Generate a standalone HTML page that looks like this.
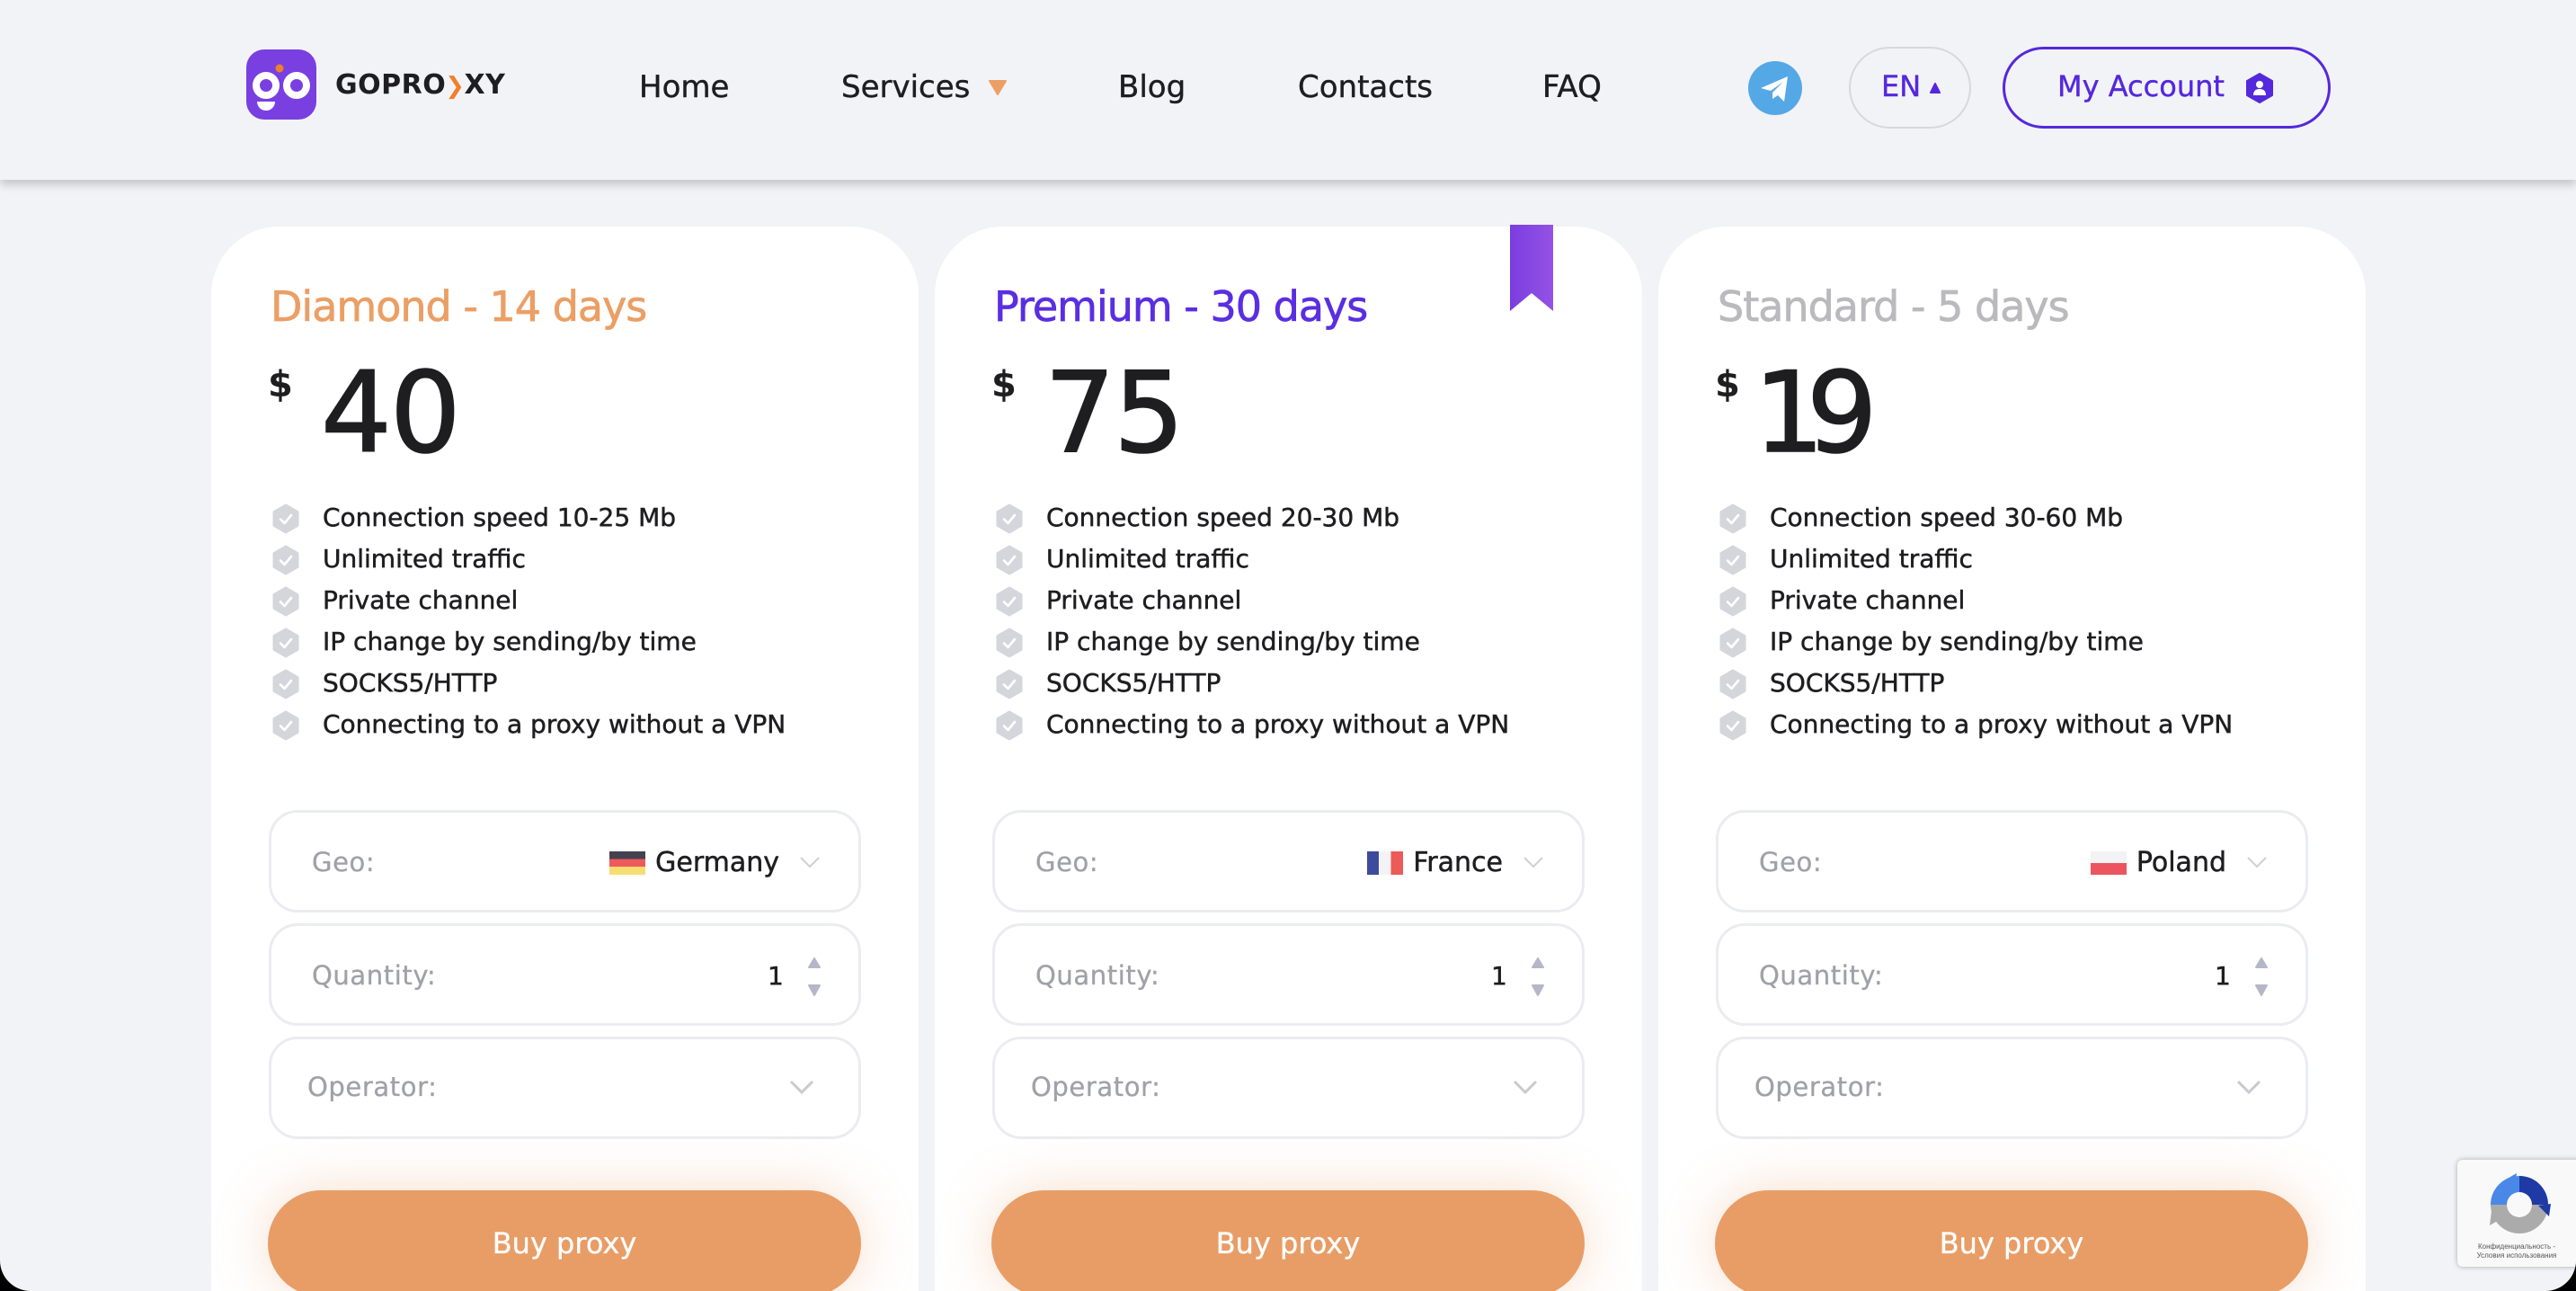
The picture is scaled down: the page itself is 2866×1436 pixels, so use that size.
<!DOCTYPE html>
<html><head><meta charset="utf-8">
<style>
*{margin:0;padding:0;box-sizing:border-box}
html,body{width:2866px;height:1436px;background:#000;overflow:hidden}
.page{position:absolute;left:0;top:0;width:2866px;height:1436px;background:#f2f3f7;border-radius:0 0 34px 34px;overflow:hidden;font-family:"DejaVu Sans","Liberation Sans",sans-serif;color:#1e1e21}
.t{position:absolute;line-height:1;white-space:nowrap}
header{position:absolute;left:0;top:0;width:2866px;height:200px;background:#f2f3f7;box-shadow:0 5px 10px rgba(0,0,0,0.2);z-index:3}
.nav{font-size:34px;top:80px;color:#1e1e21;-webkit-text-stroke:0.4px #1e1e21}
.card{position:absolute;top:252px;width:787px;height:1300px;background:#fff;border-radius:76px}
.title{left:66px;top:66px;font-size:46px;letter-spacing:-1px;-webkit-text-stroke:0.7px currentColor}
.dollar{left:63px;top:156px;font-size:40px;font-weight:bold}
.price{left:122px;top:146px;font-size:124px;letter-spacing:-2px;-webkit-text-stroke:1.6px #1e1e21}
.feat{left:124px;font-size:28px;color:#1e1e21;-webkit-text-stroke:0.5px #1e1e21}
.ico{position:absolute;left:68px;width:30px;height:34px}
.box{position:absolute;left:64px;width:659px;height:114px;border:3px solid #ebecf1;border-radius:32px;background:#fff}
.lbl{font-size:29px;letter-spacing:0.6px;color:#a0a1a8;-webkit-text-stroke:0.3px #a0a1a8}
.val{font-size:30px;line-height:1;color:#1e1e21;-webkit-text-stroke:0.5px #1e1e21}
.btn{position:absolute;left:63px;top:1072px;width:660px;height:118px;border-radius:59px;background:#e89d66;box-shadow:0 0 60px rgba(232,157,102,0.35)}
.btn span{position:absolute;left:0;width:660px;text-align:center;top:43px;font-size:32px;color:#fff;line-height:1;-webkit-text-stroke:0.3px #fff}
</style></head><body>
<div class="page">
<header>
  <svg style="position:absolute;left:274px;top:55px" width="78" height="78" viewBox="0 0 78 78">
    <rect x="0" y="0" width="78" height="78" rx="20" fill="#7a3fe0"/>
    <circle cx="22" cy="40" r="11" fill="none" stroke="#fff" stroke-width="8"/>
    <circle cx="56" cy="40" r="11" fill="none" stroke="#fff" stroke-width="8"/>
    <circle cx="37" cy="21" r="4.5" fill="#f07f2c"/>
    <path d="M12 58 A10 10 0 0 0 32 58 Z" fill="#fff"/>
  </svg>
  <div class="t" style="left:373px;top:80px;font-size:30px;font-weight:bold;letter-spacing:0.5px;color:#1e1e21">GOPRO<span style="color:#f07f2c;font-size:26px;margin:0 -1px">❯</span>XY</div>
  <div class="t nav" style="left:711px">Home</div>
  <div class="t nav" style="left:936px">Services</div>
  <svg style="position:absolute;left:1100px;top:89px" width="20" height="17" viewBox="0 0 20 17"><path d="M1 1 L19 1 L10 16 Z" fill="#eb9f65" stroke="#eb9f65" stroke-linejoin="round" stroke-width="2"/></svg>
  <div class="t nav" style="left:1244px">Blog</div>
  <div class="t nav" style="left:1444px">Contacts</div>
  <div class="t nav" style="left:1716px">FAQ</div>
  <svg style="position:absolute;left:1945px;top:68px" width="60" height="60" viewBox="0 0 60 60">
    <circle cx="30" cy="30" r="30" fill="#55a8e6"/>
    <path d="M14 30 L44 17 L40 45 L33 38 L27 42 L27 35 L39 23 L25 33 Z" fill="#fff"/>
  </svg>
  <div style="position:absolute;left:2057px;top:52px;width:136px;height:91px;border:2px solid #d8d8da;border-radius:46px"></div>
  <div class="t" style="left:2093px;top:80px;font-size:32px;color:#5528dd;-webkit-text-stroke:0.4px #5528dd">EN</div>
  <svg style="position:absolute;left:2146px;top:92px" width="14" height="13" viewBox="0 0 14 13"><path d="M7 1 L12 11 L2 11 Z" fill="#5528dd" stroke="#5528dd" stroke-linejoin="round" stroke-width="2"/></svg>
  <div style="position:absolute;left:2228px;top:52px;width:365px;height:91px;border:3px solid #5528dd;border-radius:46px"></div>
  <div class="t" style="left:2289px;top:80px;font-size:32px;color:#5528dd;-webkit-text-stroke:0.4px #5528dd">My Account</div>
  <svg style="position:absolute;left:2498px;top:81px" width="32" height="34" viewBox="0 0 32 34">
    <path d="M16 1 L30 9 L30 25 L16 33 L2 25 L2 9 Z" fill="#5528dd" stroke="#5528dd" stroke-width="2" stroke-linejoin="round"/>
    <circle cx="16" cy="13" r="4" fill="#fff"/>
    <path d="M9 25 Q9 18 16 18 Q23 18 23 25 Z" fill="#fff"/>
  </svg>
</header>

<!-- CARD 1 -->
<div class="card" style="left:235px">
  <div class="t title" style="color:#eb9f65">Diamond - 14 days</div>
  <div class="t dollar">$</div>
  <div class="t price">40</div>
  <svg class="ico" style="top:308px" viewBox="0 0 30 34"><path d="M15 2 L28 9.5 L28 24.5 L15 32 L2 24.5 L2 9.5 Z" fill="#d5d6db" stroke="#d5d6db" stroke-width="3" stroke-linejoin="round"/><path d="M9 17.5 L13.5 22 L21 13" fill="none" stroke="#fff" stroke-width="2.6" stroke-linecap="round" stroke-linejoin="round"/></svg>
  <svg class="ico" style="top:354px" viewBox="0 0 30 34"><path d="M15 2 L28 9.5 L28 24.5 L15 32 L2 24.5 L2 9.5 Z" fill="#d5d6db" stroke="#d5d6db" stroke-width="3" stroke-linejoin="round"/><path d="M9 17.5 L13.5 22 L21 13" fill="none" stroke="#fff" stroke-width="2.6" stroke-linecap="round" stroke-linejoin="round"/></svg>
  <svg class="ico" style="top:400px" viewBox="0 0 30 34"><path d="M15 2 L28 9.5 L28 24.5 L15 32 L2 24.5 L2 9.5 Z" fill="#d5d6db" stroke="#d5d6db" stroke-width="3" stroke-linejoin="round"/><path d="M9 17.5 L13.5 22 L21 13" fill="none" stroke="#fff" stroke-width="2.6" stroke-linecap="round" stroke-linejoin="round"/></svg>
  <svg class="ico" style="top:446px" viewBox="0 0 30 34"><path d="M15 2 L28 9.5 L28 24.5 L15 32 L2 24.5 L2 9.5 Z" fill="#d5d6db" stroke="#d5d6db" stroke-width="3" stroke-linejoin="round"/><path d="M9 17.5 L13.5 22 L21 13" fill="none" stroke="#fff" stroke-width="2.6" stroke-linecap="round" stroke-linejoin="round"/></svg>
  <svg class="ico" style="top:492px" viewBox="0 0 30 34"><path d="M15 2 L28 9.5 L28 24.5 L15 32 L2 24.5 L2 9.5 Z" fill="#d5d6db" stroke="#d5d6db" stroke-width="3" stroke-linejoin="round"/><path d="M9 17.5 L13.5 22 L21 13" fill="none" stroke="#fff" stroke-width="2.6" stroke-linecap="round" stroke-linejoin="round"/></svg>
  <svg class="ico" style="top:538px" viewBox="0 0 30 34"><path d="M15 2 L28 9.5 L28 24.5 L15 32 L2 24.5 L2 9.5 Z" fill="#d5d6db" stroke="#d5d6db" stroke-width="3" stroke-linejoin="round"/><path d="M9 17.5 L13.5 22 L21 13" fill="none" stroke="#fff" stroke-width="2.6" stroke-linecap="round" stroke-linejoin="round"/></svg>
  <div class="t feat" style="top:310px">Connection speed 10-25 Mb</div>
  <div class="t feat" style="top:356px">Unlimited traffic</div>
  <div class="t feat" style="top:402px">Private channel</div>
  <div class="t feat" style="top:448px">IP change by sending/by time</div>
  <div class="t feat" style="top:494px">SOCKS5/HTTP</div>
  <div class="t feat" style="top:540px">Connecting to a proxy without a VPN</div>

  <div class="box" style="top:649px">
    <div class="t lbl" style="left:45px;top:41px">Geo:</div>
    <div style="position:absolute;right:88px;top:41px;display:flex;align-items:center;height:30px">
      <div style="width:40px;height:26px;margin-right:11px;background:linear-gradient(#454150 0 33%,#ec5a5a 33% 66%,#f7dd72 66%)"></div>
      <div class="val">Germany</div>
    </div>
    <svg style="position:absolute;left:587px;top:48px" width="24" height="15" viewBox="0 0 24 15"><path d="M2 2 L12 12 L22 2" fill="none" stroke="#cfd0d6" stroke-width="2"/></svg>
  </div>
  <div class="box" style="top:775px">
    <div class="t lbl" style="left:45px;top:41px">Quantity:</div>
    <div class="t val" style="left:552px;top:42px;font-size:28px">1</div>
    <svg style="position:absolute;left:596px;top:35px" width="16" height="44" viewBox="0 0 16 44"><path d="M8 1 L14 11 L2 11 Z" fill="#b5b7c8" stroke="#b5b7c8" stroke-linejoin="round" stroke-width="2"/><path d="M2 31 L14 31 L8 42 Z" fill="#b5b7c8" stroke="#b5b7c8" stroke-linejoin="round" stroke-width="2"/></svg>
  </div>
  <div class="box" style="top:901px">
    <div class="t lbl" style="left:40px;top:39px">Operator:</div>
    <svg style="position:absolute;left:575px;top:44px" width="30" height="18" viewBox="0 0 30 18"><path d="M3 3 L15 15 L27 3" fill="none" stroke="#c9cad1" stroke-width="3"/></svg>
  </div>
  <div class="btn"><span>Buy proxy</span></div>
</div>

<!-- CARD 2 -->
<div class="card" style="left:1040px">
  <svg style="position:absolute;left:640px;top:-2px" width="48" height="96" viewBox="0 0 48 96"><defs><linearGradient id="bm" x1="0" x2="1" y1="0" y2="0"><stop offset="0" stop-color="#7a3de0"/><stop offset="1" stop-color="#9552e3"/></linearGradient></defs><path d="M0 0 L48 0 L48 96 L24 76 L0 96 Z" fill="url(#bm)"/></svg>
  <div class="t title" style="color:#5a2ee2">Premium - 30 days</div>
  <div class="t dollar">$</div>
  <div class="t price">75</div>
  <svg class="ico" style="top:308px" viewBox="0 0 30 34"><path d="M15 2 L28 9.5 L28 24.5 L15 32 L2 24.5 L2 9.5 Z" fill="#d5d6db" stroke="#d5d6db" stroke-width="3" stroke-linejoin="round"/><path d="M9 17.5 L13.5 22 L21 13" fill="none" stroke="#fff" stroke-width="2.6" stroke-linecap="round" stroke-linejoin="round"/></svg>
  <svg class="ico" style="top:354px" viewBox="0 0 30 34"><path d="M15 2 L28 9.5 L28 24.5 L15 32 L2 24.5 L2 9.5 Z" fill="#d5d6db" stroke="#d5d6db" stroke-width="3" stroke-linejoin="round"/><path d="M9 17.5 L13.5 22 L21 13" fill="none" stroke="#fff" stroke-width="2.6" stroke-linecap="round" stroke-linejoin="round"/></svg>
  <svg class="ico" style="top:400px" viewBox="0 0 30 34"><path d="M15 2 L28 9.5 L28 24.5 L15 32 L2 24.5 L2 9.5 Z" fill="#d5d6db" stroke="#d5d6db" stroke-width="3" stroke-linejoin="round"/><path d="M9 17.5 L13.5 22 L21 13" fill="none" stroke="#fff" stroke-width="2.6" stroke-linecap="round" stroke-linejoin="round"/></svg>
  <svg class="ico" style="top:446px" viewBox="0 0 30 34"><path d="M15 2 L28 9.5 L28 24.5 L15 32 L2 24.5 L2 9.5 Z" fill="#d5d6db" stroke="#d5d6db" stroke-width="3" stroke-linejoin="round"/><path d="M9 17.5 L13.5 22 L21 13" fill="none" stroke="#fff" stroke-width="2.6" stroke-linecap="round" stroke-linejoin="round"/></svg>
  <svg class="ico" style="top:492px" viewBox="0 0 30 34"><path d="M15 2 L28 9.5 L28 24.5 L15 32 L2 24.5 L2 9.5 Z" fill="#d5d6db" stroke="#d5d6db" stroke-width="3" stroke-linejoin="round"/><path d="M9 17.5 L13.5 22 L21 13" fill="none" stroke="#fff" stroke-width="2.6" stroke-linecap="round" stroke-linejoin="round"/></svg>
  <svg class="ico" style="top:538px" viewBox="0 0 30 34"><path d="M15 2 L28 9.5 L28 24.5 L15 32 L2 24.5 L2 9.5 Z" fill="#d5d6db" stroke="#d5d6db" stroke-width="3" stroke-linejoin="round"/><path d="M9 17.5 L13.5 22 L21 13" fill="none" stroke="#fff" stroke-width="2.6" stroke-linecap="round" stroke-linejoin="round"/></svg>
  <div class="t feat" style="top:310px">Connection speed 20-30 Mb</div>
  <div class="t feat" style="top:356px">Unlimited traffic</div>
  <div class="t feat" style="top:402px">Private channel</div>
  <div class="t feat" style="top:448px">IP change by sending/by time</div>
  <div class="t feat" style="top:494px">SOCKS5/HTTP</div>
  <div class="t feat" style="top:540px">Connecting to a proxy without a VPN</div>

  <div class="box" style="top:649px">
    <div class="t lbl" style="left:45px;top:41px">Geo:</div>
    <div style="position:absolute;right:88px;top:41px;display:flex;align-items:center;height:30px">
      <div style="width:40px;height:26px;margin-right:11px;background:linear-gradient(90deg,#3e4a9e 0 33%,#f3f3f5 33% 66%,#ec5a5a 66%)"></div>
      <div class="val">France</div>
    </div>
    <svg style="position:absolute;left:587px;top:48px" width="24" height="15" viewBox="0 0 24 15"><path d="M2 2 L12 12 L22 2" fill="none" stroke="#cfd0d6" stroke-width="2"/></svg>
  </div>
  <div class="box" style="top:775px">
    <div class="t lbl" style="left:45px;top:41px">Quantity:</div>
    <div class="t val" style="left:552px;top:42px;font-size:28px">1</div>
    <svg style="position:absolute;left:596px;top:35px" width="16" height="44" viewBox="0 0 16 44"><path d="M8 1 L14 11 L2 11 Z" fill="#b5b7c8" stroke="#b5b7c8" stroke-linejoin="round" stroke-width="2"/><path d="M2 31 L14 31 L8 42 Z" fill="#b5b7c8" stroke="#b5b7c8" stroke-linejoin="round" stroke-width="2"/></svg>
  </div>
  <div class="box" style="top:901px">
    <div class="t lbl" style="left:40px;top:39px">Operator:</div>
    <svg style="position:absolute;left:575px;top:44px" width="30" height="18" viewBox="0 0 30 18"><path d="M3 3 L15 15 L27 3" fill="none" stroke="#c9cad1" stroke-width="3"/></svg>
  </div>
  <div class="btn"><span>Buy proxy</span></div>
</div>

<!-- CARD 3 -->
<div class="card" style="left:1845px">
  <div class="t title" style="color:#b9b9be">Standard - 5 days</div>
  <div class="t dollar">$</div>
  <div class="t price" style="left:106px"><span style="margin-right:-18px">1</span>9</div>
  <svg class="ico" style="top:308px" viewBox="0 0 30 34"><path d="M15 2 L28 9.5 L28 24.5 L15 32 L2 24.5 L2 9.5 Z" fill="#d5d6db" stroke="#d5d6db" stroke-width="3" stroke-linejoin="round"/><path d="M9 17.5 L13.5 22 L21 13" fill="none" stroke="#fff" stroke-width="2.6" stroke-linecap="round" stroke-linejoin="round"/></svg>
  <svg class="ico" style="top:354px" viewBox="0 0 30 34"><path d="M15 2 L28 9.5 L28 24.5 L15 32 L2 24.5 L2 9.5 Z" fill="#d5d6db" stroke="#d5d6db" stroke-width="3" stroke-linejoin="round"/><path d="M9 17.5 L13.5 22 L21 13" fill="none" stroke="#fff" stroke-width="2.6" stroke-linecap="round" stroke-linejoin="round"/></svg>
  <svg class="ico" style="top:400px" viewBox="0 0 30 34"><path d="M15 2 L28 9.5 L28 24.5 L15 32 L2 24.5 L2 9.5 Z" fill="#d5d6db" stroke="#d5d6db" stroke-width="3" stroke-linejoin="round"/><path d="M9 17.5 L13.5 22 L21 13" fill="none" stroke="#fff" stroke-width="2.6" stroke-linecap="round" stroke-linejoin="round"/></svg>
  <svg class="ico" style="top:446px" viewBox="0 0 30 34"><path d="M15 2 L28 9.5 L28 24.5 L15 32 L2 24.5 L2 9.5 Z" fill="#d5d6db" stroke="#d5d6db" stroke-width="3" stroke-linejoin="round"/><path d="M9 17.5 L13.5 22 L21 13" fill="none" stroke="#fff" stroke-width="2.6" stroke-linecap="round" stroke-linejoin="round"/></svg>
  <svg class="ico" style="top:492px" viewBox="0 0 30 34"><path d="M15 2 L28 9.5 L28 24.5 L15 32 L2 24.5 L2 9.5 Z" fill="#d5d6db" stroke="#d5d6db" stroke-width="3" stroke-linejoin="round"/><path d="M9 17.5 L13.5 22 L21 13" fill="none" stroke="#fff" stroke-width="2.6" stroke-linecap="round" stroke-linejoin="round"/></svg>
  <svg class="ico" style="top:538px" viewBox="0 0 30 34"><path d="M15 2 L28 9.5 L28 24.5 L15 32 L2 24.5 L2 9.5 Z" fill="#d5d6db" stroke="#d5d6db" stroke-width="3" stroke-linejoin="round"/><path d="M9 17.5 L13.5 22 L21 13" fill="none" stroke="#fff" stroke-width="2.6" stroke-linecap="round" stroke-linejoin="round"/></svg>
  <div class="t feat" style="top:310px">Connection speed 30-60 Mb</div>
  <div class="t feat" style="top:356px">Unlimited traffic</div>
  <div class="t feat" style="top:402px">Private channel</div>
  <div class="t feat" style="top:448px">IP change by sending/by time</div>
  <div class="t feat" style="top:494px">SOCKS5/HTTP</div>
  <div class="t feat" style="top:540px">Connecting to a proxy without a VPN</div>

  <div class="box" style="top:649px">
    <div class="t lbl" style="left:45px;top:41px">Geo:</div>
    <div style="position:absolute;right:88px;top:41px;display:flex;align-items:center;height:30px">
      <div style="width:40px;height:26px;margin-right:11px;background:linear-gradient(#f3f3f5 0 50%,#ea5560 50%)"></div>
      <div class="val">Poland</div>
    </div>
    <svg style="position:absolute;left:587px;top:48px" width="24" height="15" viewBox="0 0 24 15"><path d="M2 2 L12 12 L22 2" fill="none" stroke="#cfd0d6" stroke-width="2"/></svg>
  </div>
  <div class="box" style="top:775px">
    <div class="t lbl" style="left:45px;top:41px">Quantity:</div>
    <div class="t val" style="left:552px;top:42px;font-size:28px">1</div>
    <svg style="position:absolute;left:596px;top:35px" width="16" height="44" viewBox="0 0 16 44"><path d="M8 1 L14 11 L2 11 Z" fill="#b5b7c8" stroke="#b5b7c8" stroke-linejoin="round" stroke-width="2"/><path d="M2 31 L14 31 L8 42 Z" fill="#b5b7c8" stroke="#b5b7c8" stroke-linejoin="round" stroke-width="2"/></svg>
  </div>
  <div class="box" style="top:901px">
    <div class="t lbl" style="left:40px;top:39px">Operator:</div>
    <svg style="position:absolute;left:575px;top:44px" width="30" height="18" viewBox="0 0 30 18"><path d="M3 3 L15 15 L27 3" fill="none" stroke="#c9cad1" stroke-width="3"/></svg>
  </div>
  <div class="btn"><span>Buy proxy</span></div>
</div>

<!-- reCAPTCHA badge -->
<div style="position:absolute;left:2734px;top:1290px;width:160px;height:119px;background:#f9f9f9;border-radius:6px;box-shadow:0 0 6px rgba(0,0,0,0.3);z-index:4">
  <svg style="position:absolute;left:32px;top:13px" width="74" height="74" viewBox="0 0 74 74">
    <path d="M37 5 A32 32 0 0 0 5 37 L23 37 A14 14 0 0 1 37 23 Z" fill="#4a88e8"/>
    <path d="M37 5 A32 32 0 0 1 69 37 L51 37 A14 14 0 0 0 37 23 Z" fill="#1f3aa5"/>
    <path d="M5 37 A32 32 0 0 0 69 37 L51 37 A14 14 0 0 1 23 37 Z" fill="#ababab"/>
    <path d="M20 10 L34 2 L32 18 Z" fill="#4a88e8"/>
    <path d="M70 50 L58 38 L72 36 Z" fill="#1f3aa5"/>
    <path d="M4 60 L6 44 L18 52 Z" fill="#ababab"/>
  </svg>
  <div style="position:absolute;left:0;width:132px;top:92px;text-align:center;font-family:'Liberation Sans',sans-serif;font-size:8px;line-height:10px;color:#555">Конфиденциальность -<br>Условия использования</div>
</div>
</div>
</body></html>
